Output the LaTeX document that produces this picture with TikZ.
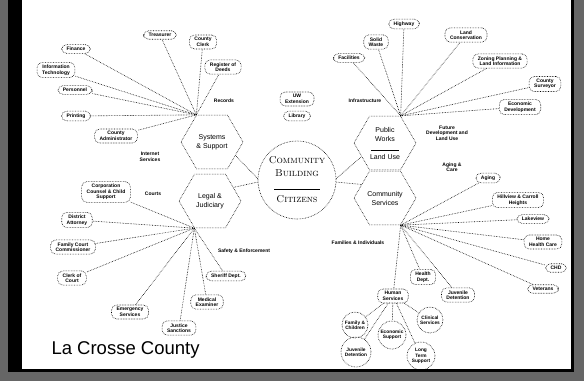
\documentclass[tikz,border=0pt]{standalone}
\usepackage{fontspec}
\setsansfont{Liberation Sans}
\usetikzlibrary{shapes.geometric}

\begin{document}
\begin{tikzpicture}[x=1pt,y=-1pt,
    link/.style={densely dotted,line width=0.6pt},
    unit/.style={draw,densely dotted,line width=0.6pt,rounded corners=5pt,inner xsep=5pt,
      inner ysep=2.5pt,align=center,font=\fontsize{5}{5.5}\selectfont\sffamily\bfseries},
    bubble/.style={circle,draw,densely dotted,line width=0.6pt,inner sep=0pt,minimum size=26pt,
      align=center,font=\fontsize{4.8}{5.3}\selectfont\sffamily\bfseries},
    hexa/.style={regular polygon,regular polygon sides=6,draw,densely dotted,line width=0.6pt,
      minimum size=62pt,inner sep=0pt,align=center,font=\fontsize{7}{9}\selectfont\sffamily},
    tag/.style={align=center,font=\fontsize{5}{5.5}\selectfont\sffamily\bfseries}]
  \useasboundingbox (0,0) rectangle (584,381);
  \fill[black!60] (0,0) rectangle (584,381);
  \fill[black] (8,0) rectangle (574,372);
  \fill[white] (22,0) rectangle (571,369);

  \node[circle,draw,densely dotted,line width=0.6pt,minimum size=78pt,inner sep=0pt,align=center,
        font=\fontsize{10}{13}\selectfont\scshape] (core) at (297,180)
        {Community\\Building\\\rule{46pt}{0.6pt}\\Citizens};

  \node[hexa] (sys) at (212,142) {Systems\\\& Support};
  \node[hexa] (leg) at (210,201) {Legal \&\\Judiciary};
  \node[hexa] (pw) at (385,143) {Public\\Works\\\rule{28pt}{0.4pt}\\Land Use};
  \node[hexa] (cs) at (385,198) {Community\\Services};

  \node[unit] (trea) at (160,35) {Treasurer};
  \node[unit] (clerk) at (203,42) {County\\Clerk};
  \node[unit] (deeds) at (223,67) {Register of\\Deeds};
  \node[unit] (fin) at (76,49) {Finance};
  \node[unit] (itech) at (56,70) {Information\\Technology};
  \node[unit] (pers) at (75,90) {Personnel};
  \node[unit] (print) at (76,116) {Printing};
  \node[unit] (admin) at (116,136) {County\\Administrator};
  \node[tag] (records) at (224,101) {Records};
  \node[tag] (inet) at (150,157) {Internet\\Services};

  \node[unit] (uwex) at (297,99) {UW\\Extension};
  \node[unit] (lib) at (297,116) {Library};

  \node[unit] (fac) at (349,58) {Facilities};
  \node[unit] (waste) at (376,42) {Solid\\Waste};
  \node[unit] (hwy) at (404,24) {Highway};
  \node[unit] (cons) at (466,35) {Land\\Conservation};
  \node[unit] (zone) at (500,61) {Zoning Planning \&\\Land Information};
  \node[unit] (surv) at (545,84) {County\\Surveyor};
  \node[unit] (econ) at (520,107) {Economic\\Development};
  \node[tag] (infra) at (365,101) {Infrastructure};
  \node[tag] (future) at (447,133) {Future\\Development and\\Land Use};

  \node[unit] (aging) at (488,178) {Aging};
  \node[unit] (hill) at (518,200) {Hillview \& Carroll\\Heights};
  \node[unit] (lake) at (533,219) {Lakeview};
  \node[unit] (home) at (543,242) {Home\\Health Care};
  \node[unit] (chd) at (556,268) {CHD};
  \node[unit] (vet) at (543,289) {Veterans};
  \node[unit] (juvd) at (458,295) {Juvenile\\Detention};
  \node[unit] (health) at (423,277) {Health\\Dept.};
  \node[unit] (human) at (393,296) {Human\\Services};
  \node[tag] (agecare) at (452,167) {Aging \&\\Care};
  \node[tag] (famind) at (358,243) {Families \& Individuals};

  \node[bubble] (famc) at (355,325) {Family \&\\Children};
  \node[bubble,minimum size=28pt] (ecosup) at (392,335) {Economic\\Support};
  \node[bubble] (clin) at (430,320) {Clinical\\Services};
  \node[bubble,minimum size=30pt] (juvc) at (356,352) {Juvenile\\Detention};
  \node[bubble,minimum size=28pt] (lts) at (421,356) {Long\\Term\\Support};

  \node[unit] (corp) at (106,192) {Corporation\\Counsel \& Child\\Support};
  \node[unit] (da) at (77,220) {District\\Attorney};
  \node[unit] (fcc) at (73,247) {Family Court\\Commissioner};
  \node[unit] (coc) at (72,278) {Clerk of\\Court};
  \node[unit] (ems) at (130,312) {Emergency\\Services};
  \node[unit] (just) at (179,328) {Justice\\Sanctions};
  \node[unit] (med) at (207,302) {Medical\\Examiner};
  \node[unit] (sher) at (226,276) {Sheriff Dept.};
  \node[tag] (courts) at (153,194) {Courts};
  \node[tag] (safety) at (244,251) {Safety \& Enforcement};

  \node[anchor=base west,font=\fontsize{18.5}{20}\selectfont\sffamily] (county) at (48,354)
        {La Crosse County};

  \path[link]
    (core.178) edge (sys.330)
    (core.183) edge (leg.30)
    (core.2) edge (pw.210)
    (core.357) edge (cs.150);

  \path[link]
    (sys.120) edge (trea) edge (clerk) edge (deeds) edge (fin)
              edge (itech) edge (pers) edge (print) edge (admin)
    (pw.60) edge (fac) edge (waste) edge (hwy) edge (cons)
            edge (zone) edge (surv) edge (econ)
    (cs.300) edge (aging) edge (hill) edge (lake) edge (home) edge (chd)
             edge (vet) edge (juvd) edge (health) edge (human)
    (leg.240) edge (corp) edge (da) edge (fcc) edge (coc) edge (ems)
              edge (just) edge (med) edge (sher);

  \path[link]
    (human) edge (famc) edge (juvc) edge (ecosup) edge (lts) edge (clin);
\end{tikzpicture}
\end{document}
